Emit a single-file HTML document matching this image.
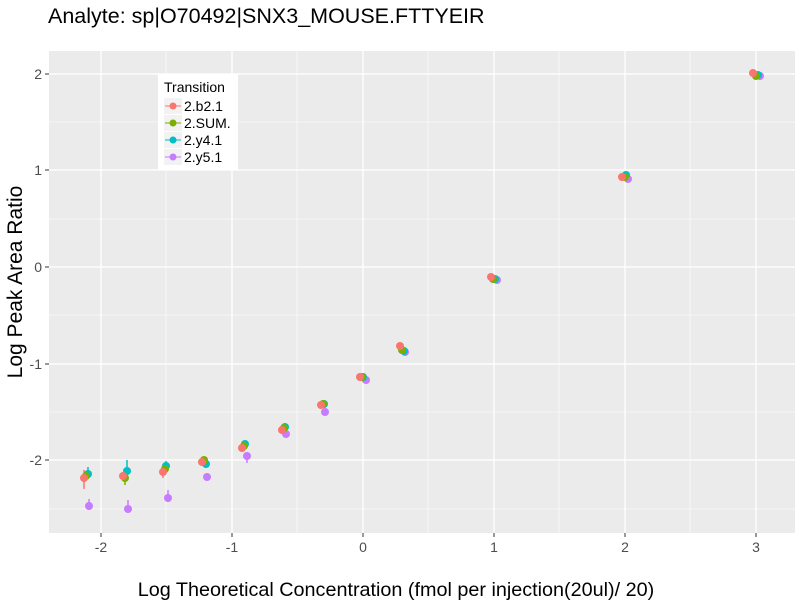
<!DOCTYPE html>
<html><head><meta charset="utf-8"><style>body{margin:0;background:#fff}svg{display:block;font-family:"Liberation Sans",sans-serif}</style></head><body>
<svg width="800" height="600" xmlns="http://www.w3.org/2000/svg">
<text x="48" y="23" font-size="21.5" fill="#000">Analyte: sp|O70492|SNX3_MOUSE.FTTYEIR</text>
<rect x="49" y="51" width="746" height="482" fill="#ebebeb"/>
<g stroke="#fff" stroke-width="0.6">
<line x1="49" x2="795" y1="509" y2="509"/><line x1="49" x2="795" y1="412" y2="412"/><line x1="49" x2="795" y1="315" y2="315"/><line x1="49" x2="795" y1="219" y2="219"/><line x1="49" x2="795" y1="122" y2="122"/>
<line y1="51" y2="533" x1="166" x2="166"/><line y1="51" y2="533" x1="297" x2="297"/><line y1="51" y2="533" x1="428" x2="428"/><line y1="51" y2="533" x1="559" x2="559"/><line y1="51" y2="533" x1="690" x2="690"/>
</g>
<g stroke="#fff" stroke-width="1.3">
<line x1="49" x2="795" y1="460" y2="460"/><line x1="49" x2="795" y1="364" y2="364"/><line x1="49" x2="795" y1="267" y2="267"/><line x1="49" x2="795" y1="170" y2="170"/><line x1="49" x2="795" y1="74" y2="74"/>
<line y1="51" y2="533" x1="101" x2="101"/><line y1="51" y2="533" x1="232" x2="232"/><line y1="51" y2="533" x1="363" x2="363"/><line y1="51" y2="533" x1="494" x2="494"/><line y1="51" y2="533" x1="625" x2="625"/><line y1="51" y2="533" x1="756" x2="756"/>
</g>
<g stroke="#333" stroke-width="1">
<line x1="45" x2="49" y1="460" y2="460"/><line x1="45" x2="49" y1="364" y2="364"/><line x1="45" x2="49" y1="267" y2="267"/><line x1="45" x2="49" y1="170" y2="170"/><line x1="45" x2="49" y1="74" y2="74"/>
<line y1="533" y2="537" x1="101" x2="101"/><line y1="533" y2="537" x1="232" x2="232"/><line y1="533" y2="537" x1="363" x2="363"/><line y1="533" y2="537" x1="494" x2="494"/><line y1="533" y2="537" x1="625" x2="625"/><line y1="533" y2="537" x1="756" x2="756"/>
</g>
<g font-size="14" fill="#4d4d4d" text-anchor="end">
<text x="42" y="465">-2</text><text x="42" y="369">-1</text><text x="42" y="272">0</text><text x="42" y="175">1</text><text x="42" y="79">2</text>
</g>
<g font-size="14" fill="#4d4d4d" text-anchor="middle">
<text x="101" y="552">-2</text><text x="232" y="552">-1</text><text x="363" y="552">0</text><text x="494" y="552">1</text><text x="625" y="552">2</text><text x="756" y="552">3</text>
</g>
<text x="396" y="596" font-size="19.8" text-anchor="middle">Log Theoretical Concentration (fmol per injection(20ul)/ 20)</text>
<text transform="translate(22,282) rotate(-90)" font-size="21" text-anchor="middle">Log Peak Area Ratio</text>
<g stroke-width="1.5">
<line x1="84" x2="84" y1="470" y2="489" stroke="#F8766D"/>
<line x1="88" x2="88" y1="467" y2="478" stroke="#00BFC4"/>
<line x1="89" x2="89" y1="499" y2="510" stroke="#C77CFF"/>
<line x1="125" x2="125" y1="472" y2="485" stroke="#7CAE00"/>
<line x1="127" x2="127" y1="460" y2="478" stroke="#00BFC4"/>
<line x1="128" x2="128" y1="500" y2="512" stroke="#C77CFF"/>
<line x1="163" x2="163" y1="466" y2="478" stroke="#F8766D"/>
<line x1="166" x2="166" y1="461" y2="471" stroke="#00BFC4"/>
<line x1="168" x2="168" y1="490" y2="502" stroke="#C77CFF"/>
<line x1="247" x2="247" y1="452" y2="463" stroke="#C77CFF"/>
</g>
<g fill="#C77CFF">
<circle cx="89" cy="506" r="4"/><circle cx="128" cy="509" r="4"/><circle cx="168" cy="498" r="4"/><circle cx="207" cy="477" r="4"/><circle cx="247" cy="456" r="4"/><circle cx="286" cy="434" r="4"/><circle cx="325" cy="412" r="4"/><circle cx="366" cy="380" r="4"/><circle cx="405" cy="352" r="4"/><circle cx="497" cy="280" r="4"/><circle cx="628" cy="179" r="4"/><circle cx="760" cy="76" r="4"/>
</g>
<g fill="#00BFC4">
<circle cx="88" cy="474" r="4"/><circle cx="127" cy="471" r="4"/><circle cx="166" cy="466" r="4"/><circle cx="206" cy="464" r="4"/><circle cx="245" cy="444" r="4"/><circle cx="285" cy="427" r="4"/><circle cx="324" cy="404" r="4"/><circle cx="363" cy="377" r="4"/><circle cx="404" cy="351" r="4"/><circle cx="495" cy="279" r="4"/><circle cx="626" cy="175" r="4"/><circle cx="758" cy="75" r="4"/>
</g>
<g fill="#7CAE00">
<circle cx="86" cy="476" r="4"/><circle cx="125" cy="478" r="4"/><circle cx="165" cy="469" r="4"/><circle cx="204" cy="460" r="4"/><circle cx="244" cy="446" r="4"/><circle cx="284" cy="428" r="4"/><circle cx="323" cy="404" r="4"/><circle cx="362" cy="377" r="4"/><circle cx="402" cy="350" r="4"/><circle cx="493" cy="279" r="4"/><circle cx="625" cy="177" r="4"/><circle cx="756" cy="76" r="4"/>
</g>
<g fill="#F8766D">
<circle cx="84" cy="478" r="4"/><circle cx="123" cy="476" r="4"/><circle cx="163" cy="472" r="4"/><circle cx="202" cy="462" r="4"/><circle cx="242" cy="448" r="4"/><circle cx="282" cy="430" r="4"/><circle cx="321" cy="405" r="4"/><circle cx="360" cy="377" r="4"/><circle cx="400" cy="346" r="4"/><circle cx="491" cy="277" r="4"/><circle cx="622" cy="177" r="4"/><circle cx="753" cy="73" r="4"/>
</g>
<rect x="158" y="74" width="80" height="96" fill="#fff"/>
<text x="164" y="92" font-size="14">Transition</text>
<g>
<rect x="164" y="98" width="18" height="16" fill="#f2f2f2"/><rect x="164" y="115" width="18" height="16" fill="#f2f2f2"/><rect x="164" y="132" width="18" height="16" fill="#f2f2f2"/><rect x="164" y="149" width="18" height="16" fill="#f2f2f2"/>
<line x1="165" x2="181" y1="106" y2="106" stroke="#F8766D"/><circle cx="173" cy="106" r="3.5" fill="#F8766D"/>
<line x1="165" x2="181" y1="123" y2="123" stroke="#7CAE00"/><circle cx="173" cy="123" r="3.5" fill="#7CAE00"/>
<line x1="165" x2="181" y1="140" y2="140" stroke="#00BFC4"/><circle cx="173" cy="140" r="3.5" fill="#00BFC4"/>
<line x1="165" x2="181" y1="157" y2="157" stroke="#C77CFF"/><circle cx="173" cy="157" r="3.5" fill="#C77CFF"/>
</g>
<g font-size="14" fill="#000">
<text x="184" y="111">2.b2.1</text><text x="184" y="128">2.SUM.</text><text x="184" y="145">2.y4.1</text><text x="184" y="162">2.y5.1</text>
</g>
</svg>
</body></html>
